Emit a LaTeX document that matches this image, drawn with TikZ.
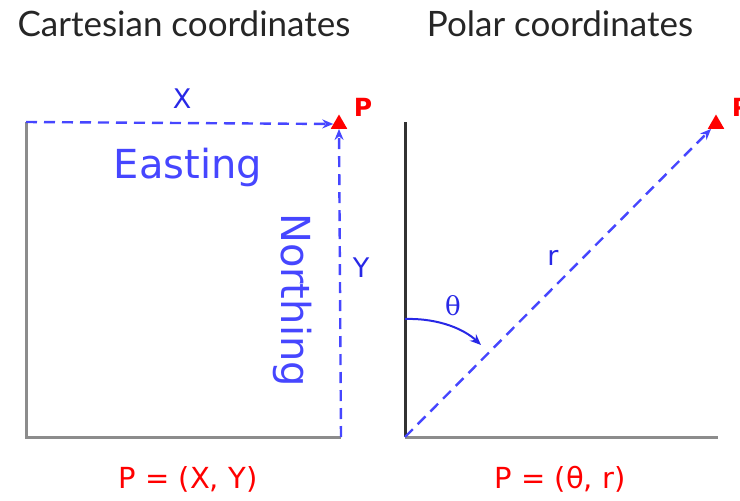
\documentclass[tikz,border=0pt]{standalone}
\usepackage{fontspec}
\setmainfont{DejaVu Sans}
\newfontfamily\titlefont{Lato}
\newfontfamily\serifth{DejaVu Serif}
\usetikzlibrary{shapes.geometric,arrows.meta}
\definecolor{lblue}{RGB}{70,70,255}
\definecolor{dblue}{RGB}{40,40,230}
\definecolor{pred}{RGB}{255,0,0}
\definecolor{axgray}{RGB}{140,140,140}
\definecolor{axdark}{RGB}{50,50,50}
\tikzset{
  axis/.style={draw=axgray,line width=3pt},
  dashline/.style={draw=lblue,line width=2.4pt,dash pattern=on 11pt off 7pt,-{Stealth[length=11pt,width=9pt]}},
  ptri/.style={regular polygon,regular polygon sides=3,fill=pred,inner sep=0pt,minimum size=19pt},
  title/.style={font=\titlefont\fontsize{35}{38}\selectfont,text=black!85},
  bigblue/.style={font=\fontsize{40}{44}\selectfont,text=lblue},
  smallblue/.style={font=\fontsize{27}{30}\selectfont,text=dblue},
  redlbl/.style={font=\fontsize{29}{32}\selectfont,text=pred},
  redp/.style={font=\bfseries\fontsize{25}{28}\selectfont,text=pred},
}
\begin{document}
\begin{tikzpicture}[x=1pt,y=-1pt]
\useasboundingbox (0,0) rectangle (740,501);
% titles
\node[title] (t1) at (184,24) {Cartesian coordinates};
\node[title] (t2) at (560,24) {Polar coordinates};
% Cartesian
\coordinate (o1) at (26,437);
\coordinate (tl1) at (26,122);
\coordinate (br1) at (341,437);
\draw[axis] (tl1) -- (o1) -- (br1);
\node[ptri] (p1) at (339,124) {};
\node[redp] (p1l) at (363,107) {P};
\draw[dashline] (tl1) -- (p1.west);
\draw[dashline] (br1) -- (p1.south);
\node[smallblue] (xl) at (182,99) {X};
\node[smallblue] (yl) at (361,268) {Y};
\node[bigblue] (east) at (188,167) {Easting};
\node[bigblue,rotate=-90] (north) at (293,300) {Northing};
\node[redlbl] (c1) at (188,479) {P = (X, Y)};
% Polar
\coordinate (o2) at (405,437);
\coordinate (tl2) at (405,122);
\coordinate (br2) at (718,437);
\draw[draw=axdark,line width=3pt] (tl2) -- (o2);
\draw[axis] (o2) -- (br2);
\node[ptri] (p2) at (716,124) {};
\node[redp] (p2l) at (741,107) {P};
\draw[dashline] (o2) -- (p2.south west);
\coordinate (a0) at (405,319);
\coordinate (a1) at (481,345);
\draw[draw=dblue,line width=2pt,-{Stealth[length=11pt,width=9pt]}] (a0) .. controls (440,318) and (465,330) .. (a1);
\node[font=\serifth\fontsize{26}{28}\selectfont,text=dblue] (th) at (453,306) {θ};
\node[smallblue] (rl) at (553,258) {r};
\node[redlbl] (c2) at (560,479) {P = (θ, r)};
\end{tikzpicture}
\end{document}
